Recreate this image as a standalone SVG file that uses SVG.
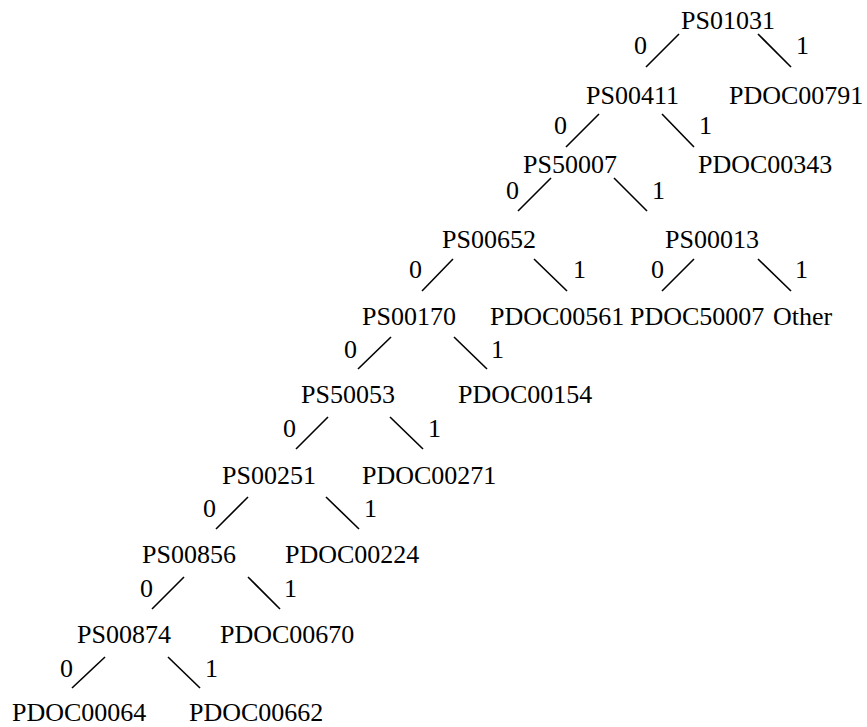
<svg xmlns="http://www.w3.org/2000/svg" width="867" height="727" viewBox="0 0 867 727">
  <style>
    text { font-family: "Liberation Serif", "Times New Roman", serif; font-size: 26px; fill: #000; }
    .edge { stroke: #000; stroke-width: 1.6; fill: none; }
  </style>
  <rect width="867" height="727" fill="#fff"/>

  <!-- connectors with their 0/1 labels -->
  <g id="connectors">
    <!-- PS01031 -->
    <line class="edge" x1="679" y1="34" x2="646" y2="67"/>
    <line class="edge" x1="758" y1="34" x2="791" y2="67"/>
    <text x="634" y="54">0</text><text x="796" y="54">1</text>
    <!-- PS00411 -->
    <line class="edge" x1="599" y1="114" x2="566" y2="147"/>
    <line class="edge" x1="662" y1="114" x2="694" y2="147"/>
    <text x="554" y="134">0</text><text x="699" y="134">1</text>
    <!-- PS50007 -->
    <line class="edge" x1="551" y1="178" x2="518" y2="211"/>
    <line class="edge" x1="614" y1="178" x2="647" y2="211"/>
    <text x="506" y="199">0</text><text x="652" y="199">1</text>
    <!-- PS00652 -->
    <line class="edge" x1="453" y1="259" x2="422" y2="291"/>
    <line class="edge" x1="534" y1="259" x2="567" y2="291"/>
    <text x="409" y="278">0</text><text x="573" y="278">1</text>
    <!-- PS00013 -->
    <line class="edge" x1="694" y1="259" x2="662" y2="291"/>
    <line class="edge" x1="758" y1="259" x2="791" y2="291"/>
    <text x="651" y="278">0</text><text x="795" y="278">1</text>
    <!-- PS00170 -->
    <line class="edge" x1="391" y1="337" x2="358" y2="369"/>
    <line class="edge" x1="454" y1="337" x2="487" y2="369"/>
    <text x="344" y="358">0</text><text x="491" y="358">1</text>
    <!-- PS50053 -->
    <line class="edge" x1="328" y1="417" x2="296" y2="449"/>
    <line class="edge" x1="390" y1="417" x2="423" y2="449"/>
    <text x="283" y="437">0</text><text x="428" y="437">1</text>
    <!-- PS00251 -->
    <line class="edge" x1="248" y1="497" x2="216" y2="529"/>
    <line class="edge" x1="326" y1="497" x2="359" y2="529"/>
    <text x="203" y="517">0</text><text x="364" y="517">1</text>
    <!-- PS00856 -->
    <line class="edge" x1="184" y1="577" x2="152" y2="609"/>
    <line class="edge" x1="248" y1="577" x2="280" y2="609"/>
    <text x="140" y="597">0</text><text x="284" y="597">1</text>
    <!-- PS00874 -->
    <line class="edge" x1="105" y1="657" x2="72" y2="688"/>
    <line class="edge" x1="168" y1="657" x2="200" y2="688"/>
    <text x="60" y="677">0</text><text x="205" y="677">1</text>
  </g>

  <!-- internal nodes -->
  <g id="n-PS01031"><text x="681" y="29">PS01031</text></g>
  <g id="n-PS00411"><text x="586" y="104">PS00411</text></g>
  <g id="n-PS50007"><text x="523" y="173">PS50007</text></g>
  <g id="n-PS00652"><text x="442" y="248">PS00652</text></g>
  <g id="n-PS00013"><text x="665" y="248">PS00013</text></g>
  <g id="n-PS00170"><text x="362" y="325">PS00170</text></g>
  <g id="n-PS50053"><text x="301" y="403">PS50053</text></g>
  <g id="n-PS00251"><text x="222" y="484">PS00251</text></g>
  <g id="n-PS00856"><text x="142" y="563">PS00856</text></g>
  <g id="n-PS00874"><text x="77" y="643">PS00874</text></g>

  <!-- leaves -->
  <g id="l-PDOC00791"><text x="729" y="104">PDOC00791</text></g>
  <g id="l-PDOC00343"><text x="698" y="173">PDOC00343</text></g>
  <g id="l-PDOC00561"><text x="490" y="325">PDOC00561</text></g>
  <g id="l-PDOC50007"><text x="630" y="325">PDOC50007</text></g>
  <g id="l-Other"><text x="773" y="325">Other</text></g>
  <g id="l-PDOC00154"><text x="458" y="403">PDOC00154</text></g>
  <g id="l-PDOC00271"><text x="362" y="484">PDOC00271</text></g>
  <g id="l-PDOC00224"><text x="285" y="563">PDOC00224</text></g>
  <g id="l-PDOC00670"><text x="220" y="643">PDOC00670</text></g>
  <g id="l-PDOC00064"><text x="12" y="721">PDOC00064</text></g>
  <g id="l-PDOC00662"><text x="189" y="721">PDOC00662</text></g>
</svg>
